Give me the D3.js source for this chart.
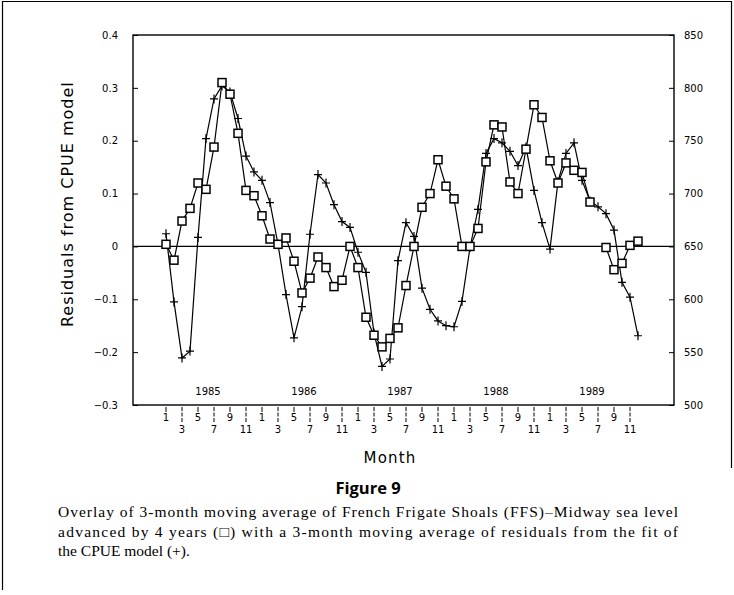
<!DOCTYPE html>
<html>
<head>
<meta charset="utf-8">
<script src="https://cdn.jsdelivr.net/npm/d3@7"></script>
<style>
  body { margin: 0; background: #fff; }
  svg { display: block; }
</style>
</head>
<body>
<div id="wrapper"></div>
<script>
// ---------- DATA ----------------------------------------------------------
// month index 0 = January 1985, one value per month
const residuals = [
  0.024, -0.105, -0.211, -0.198, 0.017, 0.204, 0.279, 0.304, 0.292, 0.242, 0.171, 0.141,
  0.125, 0.083, 0.004, -0.091, -0.173, -0.114, 0.023, 0.136, 0.120, 0.079, 0.047, 0.036,
  -0.011, -0.049, -0.164, -0.227, -0.213, -0.027, 0.045, 0.019, -0.079, -0.119, -0.141, -0.150,
  -0.152, -0.104, -0.002, 0.070, 0.176, 0.204, 0.196, 0.180, 0.153, 0.188, 0.106, 0.045,
  -0.005, 0.123, 0.176, 0.196, 0.125, 0.086, 0.075, 0.062, 0.031, -0.068, -0.096, -0.169
];
// FFS-Midway sea level (right axis), advanced by 4 years; null = missing month
const seaLevel = [
  652, 637, 674, 686, 710, 704, 744, 805, 794, 757, 703, 698,
  679, 657, 652, 658, 636, 606, 620, 640, 630, 612, 618, 650,
  630, 583, 566, 555, 563, 573, 613, 650, 687, 700, 732, 707,
  695, 650, 650, 667, 730, 765, 763, 711, 700, 742, 784, 772,
  731, 710, 729, 722, 720, 692, null, 649, 628, 634, 651, 655
];
const years = [1985, 1986, 1987, 1988, 1989];
const leftTicks = [-0.3, -0.2, -0.1, 0, 0.1, 0.2, 0.3, 0.4];
const rightTicks = [500, 550, 600, 650, 700, 750, 800, 850];
const monthTicks = d3.range(0, 60, 2); // Jan, Mar, May, ... of each year

const captionTitle = "Figure 9";
const captionLines = [
  "Overlay of 3-month moving average of French Frigate Shoals (FFS)\u2013Midway sea level",
  "advanced by 4 years (\u25A1) with a 3-month moving average of residuals from the fit of",
  "the CPUE model (+)."
];

// ---------- DIMENSIONS ----------------------------------------------------
const dimensions = {
  width: 734,
  height: 595,
  margin: { top: 35, right: 60, bottom: 190, left: 133 },
};
dimensions.boundedWidth = dimensions.width - dimensions.margin.left - dimensions.margin.right;
dimensions.boundedHeight = dimensions.height - dimensions.margin.top - dimensions.margin.bottom;

const svg = d3.select("#wrapper").append("svg")
  .attr("width", dimensions.width)
  .attr("height", dimensions.height);

// figure frame
svg.append("path")
  .attr("d", "M2.5,590V1.5H731.5V468")
  .attr("fill", "none")
  .attr("stroke", "#000")
  .attr("stroke-width", 1.2);

const bounds = svg.append("g")
  .attr("transform", `translate(${dimensions.margin.left},${dimensions.margin.top})`);

// ---------- SCALES --------------------------------------------------------
const xScale = d3.scaleLinear()
  .domain([-4.125, 63.5])
  .range([0, dimensions.boundedWidth]);
const yScale = d3.scaleLinear()
  .domain([-0.3, 0.4])
  .range([dimensions.boundedHeight, 0]);
const yRightScale = d3.scaleLinear()
  .domain([500, 850])
  .range([dimensions.boundedHeight, 0]);

const tickFont = "'DejaVu Sans', sans-serif";

// ---------- AXES ----------------------------------------------------------
const yAxis = bounds.append("g")
  .call(d3.axisLeft(yScale).tickValues(leftTicks).tickSize(-5).tickPadding(15)
    .tickFormat(d => d === 0 ? "0" : d3.format(".1f")(d).replace("-", "\u2212")));
const yAxisRight = bounds.append("g")
  .attr("transform", `translate(${dimensions.boundedWidth},0)`)
  .call(d3.axisRight(yRightScale).tickValues(rightTicks).tickSize(-5).tickPadding(10));
[yAxis, yAxisRight].forEach(ax => {
  ax.select(".domain").remove();
  ax.selectAll("text").attr("font-size", 10).attr("font-family", tickFont).attr("fill", "#000");
  ax.selectAll("line").attr("stroke", "#000");
});

// plot box
bounds.append("rect")
  .attr("width", dimensions.boundedWidth)
  .attr("height", dimensions.boundedHeight)
  .attr("fill", "none")
  .attr("stroke", "#000")
  .attr("stroke-width", 1.4);

// zero line
bounds.append("line")
  .attr("x1", 0).attr("x2", dimensions.boundedWidth)
  .attr("y1", yScale(0)).attr("y2", yScale(0))
  .attr("stroke", "#000").attr("stroke-width", 1.2);

// month ticks, labels staggered in two rows
const xAxis = bounds.append("g")
  .attr("transform", `translate(0,${dimensions.boundedHeight})`);
const tickGroups = xAxis.selectAll("g").data(monthTicks).join("g")
  .attr("transform", d => `translate(${xScale(d)},0)`);
const lowRow = d => (d / 2) % 2 === 1; // Mar, Jul, Nov
tickGroups.append("line")
  .attr("y1", 2)
  .attr("y2", d => lowRow(d) ? 18 : 7)
  .attr("stroke", "#000")
  .attr("stroke-dasharray", d => lowRow(d) ? "4 1.5" : null);
tickGroups.append("text")
  .attr("y", d => lowRow(d) ? 28 : 16)
  .attr("text-anchor", "middle")
  .attr("font-size", 10)
  .attr("font-family", tickFont)
  .text(d => (d % 12) + 1);

// year labels inside plot
bounds.selectAll(".year").data(years).join("text")
  .attr("class", "year")
  .attr("x", (d, i) => xScale(i * 12 + 5.25))
  .attr("y", dimensions.boundedHeight - 10)
  .attr("text-anchor", "middle")
  .attr("font-size", 10)
  .attr("font-family", tickFont)
  .text(d => d);

// axis titles
bounds.append("text")
  .attr("x", xScale(28))
  .attr("y", dimensions.boundedHeight + 58)
  .attr("text-anchor", "middle")
  .attr("font-size", 15)
  .attr("letter-spacing", 1.2)
  .attr("font-family", tickFont)
  .text("Month");
bounds.append("text")
  .attr("transform", `translate(-60,${yScale(0.08)}) rotate(-90)`)
  .attr("text-anchor", "middle")
  .attr("font-size", 16)
  .attr("letter-spacing", 1)
  .attr("font-family", tickFont)
  .text("Residuals from CPUE model");

// ---------- SERIES --------------------------------------------------------
const residualLine = d3.line()
  .x((d, i) => xScale(i))
  .y(d => yScale(d));
const seaLine = d3.line()
  .defined(d => d !== null)
  .x((d, i) => xScale(i))
  .y(d => yRightScale(d));

bounds.append("path")
  .attr("d", residualLine(residuals))
  .attr("fill", "none").attr("stroke", "#000").attr("stroke-width", 1.2);
bounds.append("path")
  .attr("d", seaLine(seaLevel))
  .attr("fill", "none").attr("stroke", "#000").attr("stroke-width", 1.2);

bounds.selectAll(".plus").data(residuals).join("path")
  .attr("class", "plus")
  .attr("transform", (d, i) => `translate(${xScale(i)},${yScale(d)})`)
  .attr("d", "M-4,0H4M0,-4.5V4.5")
  .attr("stroke", "#000").attr("stroke-width", 1.2);

const seaPoints = seaLevel.map((v, i) => ({ i, v })).filter(d => d.v !== null);
bounds.selectAll(".square").data(seaPoints).join("rect")
  .attr("class", "square")
  .attr("x", d => xScale(d.i) - 4)
  .attr("y", d => yRightScale(d.v) - 4)
  .attr("width", 8).attr("height", 8)
  .attr("fill", "#fff").attr("stroke", "#000").attr("stroke-width", 1.5);

// ---------- CAPTION -------------------------------------------------------
svg.append("text")
  .attr("x", 368).attr("y", 494)
  .attr("text-anchor", "middle")
  .attr("font-size", 16.5)
  .attr("font-weight", "bold")
  .attr("font-family", "'Open Sans', 'DejaVu Sans', sans-serif")
  .text(captionTitle);
svg.selectAll(".caption").data(captionLines).join("text")
  .attr("class", "caption")
  .attr("x", 58)
  .attr("y", (d, i) => 517 + i * 19.5)
  .attr("font-size", 15.5)
  .attr("font-family", "'Liberation Serif', 'DejaVu Serif', serif")
  .attr("textLength", (d, i) => i < 2 ? 620 : null)
  .attr("lengthAdjust", "spacing")
  .text(d => d);
</script>
</body>
</html>
